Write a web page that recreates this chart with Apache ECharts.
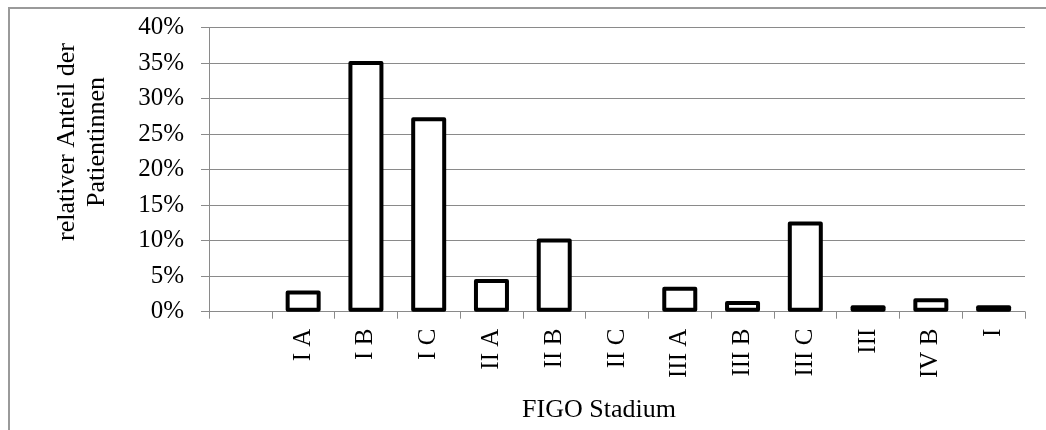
<!DOCTYPE html>
<html>
<head>
<meta charset="utf-8">
<style>
html,body{margin:0;padding:0;background:#fff;}
#chart{width:1046px;height:430px;}
</style>
<script src="https://cdn.jsdelivr.net/npm/echarts@6/dist/echarts.min.js"></script>
</head>
<body>
<div id="chart"></div>
<script>
const categories = ['', 'I A', 'I B', 'I C', 'II A', 'II B', 'II C', 'III A', 'III B', 'III C', 'III', 'IV B', 'I'];
const shares = [null, 3.0, 35.3, 27.4, 4.6, 10.3, 0, 3.5, 1.5, 12.7, 0.9, 1.9, 0.9];
const yTicks = [0, 5, 10, 15, 20, 25, 30, 35, 40];
const yTitle = ['relativer Anteil der', 'Patientinnen'];
const xTitle = 'FIGO Stadium';

const FONT = '"Liberation Serif", "Times New Roman", serif';
const chart = echarts.init(document.getElementById('chart'), null, {renderer: 'canvas'});

const barData = shares.map(v => {
  if (v === null) return '-';
  if (v === 0) return {value: 0, itemStyle: {borderWidth: 0}};
  return v;
});

chart.setOption({
  animation: false,
  backgroundColor: '#fff',
  grid: {left: 209, right: 21, top: 27.7, bottom: 118.3, containLabel: false},
  graphic: [
    {type: 'rect', shape: {x: 9, y: 8, width: 1200, height: 600}, style: {fill: 'none', stroke: '#9a9a9a', lineWidth: 2}, silent: true, z: -10},
    {type: 'text', x: 82, y: 142, rotation: Math.PI / 2,
     style: {text: yTitle.join('\n'), font: '26px ' + FONT, fill: '#000', align: 'center', verticalAlign: 'middle', lineHeight: 30}},
    {type: 'text', x: 599, y: 410,
     style: {text: xTitle, font: '26px ' + FONT, fill: '#000', align: 'center', verticalAlign: 'middle'}}
  ],
  xAxis: {
    type: 'category',
    data: categories,
    boundaryGap: true,
    axisLine: {show: true, lineStyle: {color: '#8a8a8a', width: 1}},
    axisTick: {show: true, length: 7, interval: 0, alignWithLabel: false, lineStyle: {color: '#8a8a8a', width: 1}},
    axisLabel: {interval: 0, rotate: 90, margin: 17, fontFamily: FONT, fontSize: 25, color: '#000'},
    splitLine: {show: false}
  },
  yAxis: {
    type: 'value',
    min: yTicks[0],
    max: yTicks[yTicks.length - 1],
    interval: yTicks[1] - yTicks[0],
    axisLine: {show: true, lineStyle: {color: '#8a8a8a', width: 1}},
    axisTick: {show: true, length: 8, lineStyle: {color: '#8a8a8a', width: 1}},
    axisLabel: {margin: 25, fontFamily: FONT, fontSize: 25, color: '#000', formatter: '{value}%'},
    splitLine: {show: true, lineStyle: {color: '#8a8a8a', width: 1}}
  },
  series: [{
    type: 'bar',
    data: barData,
    barWidth: 35,
    itemStyle: {color: '#fff', borderColor: '#000', borderWidth: 4, borderJoin: 'round'},
    z: 5
  }]
});
</script>
</body>
</html>
